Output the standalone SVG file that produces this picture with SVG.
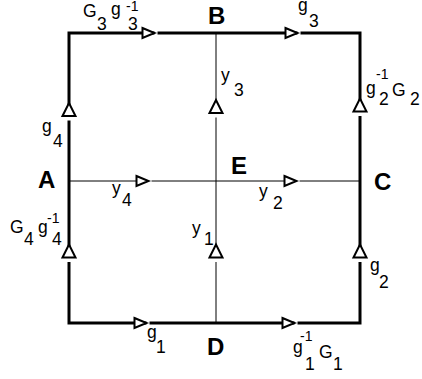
<svg xmlns="http://www.w3.org/2000/svg" width="422" height="379" viewBox="0 0 422 379">
<style>
text{font-family:"Liberation Sans",Arial,sans-serif;fill:#000}
.t{font-size:17.5px}
.s{font-size:14px}
.b{font-size:24px;font-weight:bold}
.thick{fill:none;stroke:#000;stroke-width:3}
.thin{fill:none;stroke:#000;stroke-width:1}
.tri{fill:#fff;stroke:#000;stroke-width:2;stroke-linejoin:miter}
</style>
<defs>
<g id="ah"><rect x="6" y="-2.5" width="3" height="5" fill="#fff"/><polygon class="tri" points="-6,-5 6,0 -6,5"/></g>
<g id="av"><rect x="-3" y="6" width="6" height="5" fill="#fff"/><polygon class="tri" points="-6.5,6.5 0,-6.5 6.5,6.5"/></g>
</defs>
<g id="connectors">
<path class="thick" d="M69,33 H360 V323 H69 Z"/>
<line class="thin" x1="216" y1="33" x2="216" y2="323"/>
<line class="thin" x1="69" y1="181" x2="360" y2="181"/>
<use href="#ah" x="148.5" y="33"/>
<use href="#ah" x="291.5" y="33"/>
<use href="#ah" x="142.5" y="181"/>
<use href="#ah" x="290.5" y="181"/>
<use href="#ah" x="140.5" y="323"/>
<use href="#ah" x="288.5" y="323"/>
<use href="#av" x="69" y="109.5"/>
<use href="#av" x="69" y="251"/>
<use href="#av" x="216" y="106.5"/>
<use href="#av" x="216" y="251"/>
<use href="#av" x="360" y="105"/>
<use href="#av" x="360" y="251"/>
</g>
<g id="A"><text class="b" x="38" y="188">A</text></g>
<g id="B"><text class="b" x="208" y="24">B</text></g>
<g id="C"><text class="b" x="374" y="190">C</text></g>
<g id="D"><text class="b" x="207" y="355">D</text></g>
<g id="E"><text class="b" x="231" y="174">E</text></g>
<g id="labels">
<text class="t" x="83" y="17">G</text><text class="t" x="97" y="30">3</text>
<text class="t" x="111" y="15">g</text><text class="s" x="126" y="11">-1</text><text class="t" x="128" y="30">3</text>
<text class="t" x="298" y="11">g</text><text class="t" x="309" y="27">3</text>
<text class="t" x="221" y="81">y</text><text class="t" x="234" y="96">3</text>
<text class="t" x="366" y="94">g</text><text class="s" x="376" y="79">-1</text><text class="t" x="379" y="105">2</text>
<text class="t" x="392" y="96">G</text><text class="t" x="410" y="105">2</text>
<text class="t" x="42" y="132">g</text><text class="t" x="53" y="147">4</text>
<text class="t" x="112" y="194">y</text><text class="t" x="122" y="206">4</text>
<text class="t" x="259" y="197">y</text><text class="t" x="273" y="209">2</text>
<text class="t" x="10" y="233">G</text><text class="t" x="24" y="245">4</text>
<text class="t" x="38" y="233">g</text><text class="s" x="47" y="223">-1</text><text class="t" x="52" y="245">4</text>
<text class="t" x="192" y="234">y</text><text class="t" x="204" y="245">1</text>
<text class="t" x="370" y="271">g</text><text class="t" x="379" y="288">2</text>
<text class="t" x="147" y="338">g</text><text class="t" x="156" y="353">1</text>
<text class="t" x="293" y="353">g</text><text class="s" x="300" y="341">-1</text><text class="t" x="305" y="370">1</text>
<text class="t" x="319" y="358">G</text><text class="t" x="333" y="370">1</text>
</g>
</svg>
